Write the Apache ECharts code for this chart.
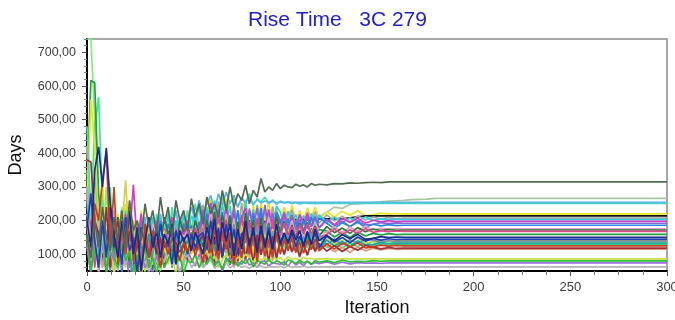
<!DOCTYPE html>
<html>
<head>
<meta charset="utf-8">
<script src="https://cdn.jsdelivr.net/npm/echarts@6/dist/echarts.min.js"></script>
<style>
html,body{margin:0;padding:0;background:#fff;}
#chart{width:675px;height:320px;}
</style>
</head>
<body>
<div id="chart"></div>
<script>
// ---------- data ----------
const iterations = [0,2,4,6,8,10,12,14,16,18,20,22,24,26,28,30,32,34,36,38,40,42,44,46,48,50,52,54,56,58,60,62,64,66,68,70,72,74,76,78,80,82,84,86,88,90,92,94,96,98,100,102,104,106,108,110,112,114,116,118,120,124,128,132,136,140,144,148,152,156,160,164,168,172,176,180,184,188,192,196,200];
const lastIteration = 300;
const xTickLabels = [0,50,100,150,200,250,300];
const yTickValues = [100,200,300,400,500,600,700];

const sLime = [740,740,500,200,90,300,60,180,100,240, 80,150,40,200,90,130,70,160,110,50, 120,80,140,100,150,60,120,145,125,160, 105,170,95,160,115,175,90,165,100,180,95,150,85,170,105,185,80,155,90,175, 117,147,120,157,127,155,110,150,115,160,125, 145,127,141,125,142,130, 138,133,137,134, 135];
const sSpring = [350,200,480,567,250,120,300,80,190,100, 160,60,140,90,180,40,130,110,150,90, 120,140,70,135,120,150,100,132,125,140, 148,98,163,108,158,88,153,93,168,138,83,158,103,173,78,163,113,183,98,148, 142,120,146,108,140,103,143,118,153,110,150, 119,135,118,133,122,136, 125,130,127,129, 128];
const sGreen = [300,617,609,280,150,80,200,120,60,180, 100,150,70,170,40,140,110,160,90,150, 120,165,60,155,140,170,100,165,145,175, 179,129,214,144,194,109,204,134,189,114,169,199,124,184,119,189,139,194,129,179, 181,141,184,149,174,134,171,139,177,151,173, 169,151,165,149,166,154, 162,157,161,158, 159];
const sSage = [420,160,90,200,60,150,110,40,170,90, 140,70,120,160,90,150,60,140,100,170, 80,130,150,100,160,90,140,120,110,150, 120,160,100,140,130,150,110,145,125,160, 130,150,140,155,135,160,145,150,140,165, 150,160,155,175,170,185,195,190,205,215, 210,225,240,236,248, 250,252,254,256,258, 259,260,262,263,264,266];
const sLightCoral = [420,150,80,200,60,140,100,170,70,120, 90,150,40,130,100,120,60,125,110,140, 80,120,112,130,95,118,114,122,108,116, 65,145,95,170,75,160,105,155,60,140,80,165,90,145,70,150,85,135,80,155, 137,97,140,105,130,90,127,95,133,107,129, 125,107,121,105,122,110, 118,113,117,114, 115];
const sYellow = [250,560,420,180,320,120,260,90,220,150, 250,110,200,60,230,120,180,70,210,130, 190,100,220,150,200,110,230,180,210,130, 240,190,275,205,255,170,265,195,250,175,230,260,185,245,180,250,200,255,190,240, 195,240,205,245,200,230,198,238,208,240,205, 226,210,228,216,229,214, 217,222,219,221, 220];
const sAqua = [480,220,330,160,260,110,220,80,190,140, 230,100,180,60,210,130,170,90,220,150, 190,110,240,160,200,130,230,170,250,180, 210,240,190,260,220,270,230,255,265,240, 270,250,280,245,265,255,270,250,262,248, 258,252,256,250,254,249,253,251,252,250, 251,252,251];
const sLightBlue = [300,140,250,80,180,60,160,110,70,200, 120,170,90,150,130,210,100,180,150,220, 140,190,170,230,160,210,190,240,200,260, 220,250,275,230,280,245,285,250,275,240, 265,255,270,250,262,252,258,254,257,253, 255,254,254];
const sBlack = [100,60,140,80,170,40,120,90,160,70, 130,100,150,60,140,110,160,90,150,120, 170,110,160,80,175,140,120,150,180,130, 175,150,185,140,190,160,180,155,195,170, 185,165,200,175,195,180,198,185,202,190, 200,195,204,198,203,200,205,202,206,204, 205,205,206,205,208,211,214];
const sGray = [200,90,300,60,240,100,180,40,210,120, 160,80,190,50,170,130,200,90,180,140, 100,190,150,200,120,195,170,140,205,180, 247,162,227,152,257,177,242,157,222,167,252,172,237,162,247,187,232,167,242,177, 182,227,192,232,187,217,185,225,195,227,192, 217,199,213,197,214,202, 210,205,209,206, 207];
const sCyan = [220,100,160,60,190,120,230,80,150,110, 200,60,170,130,100,180,140,210,90,190, 150,220,110,200,170,230,140,215,190,240, 153,233,183,258,163,248,193,243,148,228,168,253,178,233,158,238,173,223,168,243, 225,185,228,193,218,178,215,183,221,195,217, 194,210,193,208,197,211, 200,205,202,204, 203];
const sMagenta = [180,90,250,120,200,80,240,130,190,100, 220,150,306,120,220,90,180,50,200,110, 170,150,210,80,180,160,200,110,190,170, 218,168,253,183,233,148,243,173,228,153,208,238,163,223,158,228,178,233,168,218, 188,223,178,213,173,218,190,220,183,210,180, 204,188,206,194,207,192, 201,196,200,197, 198];
const sPurple = [150,70,200,100,170,40,190,90,150,120, 180,60,160,110,190,80,170,130,185,70, 175,140,190,100,185,160,195,130,190,175, 232,157,212,162,227,147,222,167,242,157,217,137,232,182,237,152,247,172,222,142, 167,212,177,217,172,202,170,210,180,212,177, 202,184,198,182,199,187, 189,194,191,193, 192];
const sBlue = [250,100,180,60,220,90,170,120,200,40, 160,110,190,130,70,170,100,180,140,200, 120,190,150,175,90,190,165,185,140,195, 156,221,146,211,166,226,141,216,151,231,146,201,136,221,156,236,131,206,141,226, 200,178,204,166,198,161,201,176,211,168,208, 192,176,194,182,195,180, 189,184,188,185, 186];
const sLightPink = [150,60,120,200,90,170,110,230,80,160, 120,190,50,170,140,180,100,190,160,130, 175,145,190,160,180,150,178,170,185,160, 195,145,230,160,210,125,220,150,205,130,185,215,140,200,135,205,155,210,145,195, 150,195,160,200,155,185,153,193,163,195,160, 166,182,165,180,169,183, 172,177,174,176, 175];
const sDarkGreen = [260,140,200,90,180,60,150,110,210,130, 170,80,190,120,160,140,200,50,180,130, 210,160,190,100,205,165,185,140,200,160, 122,202,152,227,132,217,162,212,117,197,137,222,147,202,127,207,142,192,137,212, 162,197,152,187,147,192,164,194,157,184,154, 182,164,178,162,179,167, 175,170,174,171, 172];
const sPink = [120,200,60,170,100,150,70,190,110,160, 80,180,120,40,150,100,170,130,160,90, 175,140,165,110,170,160,180,130,175,150, 208,123,188,113,218,138,203,118,183,128,213,133,198,123,208,148,193,128,203,138, 158,193,148,183,143,188,160,190,153,180,150, 159,175,158,173,162,176, 165,170,167,169, 168];
const sOlive = [200,150,300,100,220,80,180,120,200,170, 320,120,200,90,170,50,190,110,160,140, 170,70,150,145,120,150,138,100,145,140, 180,95,160,85,190,110,175,90,155,100,185,105,170,95,180,120,165,100,175,110, 125,160,128,158,118,150,120,165,125,160,115, 146,130,148,136,149,134, 137,142,139,141, 140];
const sSteel = [130,60,100,170,80,150,50,120,90,140, 70,160,100,40,130,80,150,110,60,140, 120,150,90,145,130,100,142,138,120,140, 178,103,158,108,173,93,168,113,188,103,163,83,178,128,183,98,193,118,168,88, 152,130,156,118,150,113,153,128,163,120,160, 129,145,128,143,132,146, 141,136,140,137, 138];
const sTeal = [140,60,180,100,150,70,200,120,90,170, 110,140,40,150,120,100,160,70,130,140, 90,145,115,160,125,100,138,128,150,115, 152,102,167,112,162,92,157,97,172,142,87,162,107,177,82,167,117,187,102,152, 122,157,112,147,107,152,124,154,117,144,114, 142,124,138,122,139,127, 129,134,131,133, 132];
const sMaroon = [380,374,200,160,90,240,60,150,200,80, 130,170,70,140,40,160,90,130,100,150, 60,125,105,135,100,130,80,125,112,140, 158,73,138,63,168,88,153,68,133,78,163,83,148,73,158,98,143,78,153,88, 140,100,143,108,133,93,130,98,136,110,132, 109,125,108,123,112,126, 121,116,120,117, 118];
const sYellowGreen = [200,80,150,50,120,70,140,40,110,90, 60,130,80,100,30,110,90,70,140,80, 120,75,95,40,105,80,130,75,100,60, 92,110,78,95,60,84,100,86,70,92, 84,100,88,76,95,82,90,78,94,84, 90,80,92,85,88,82,90,86,88,85, 87,86,85,86,86];
const sLavender = [120,40,160,70,130,50,110,80,140,60, 100,30,90,70,110,60,85,40,95,65, 80,120,70,85,40,80,110,85,65,100, 60,75,95,68,82,50,78,90,66,76, 70,85,68,74,60,77,80,65,75,72, 70,78,64,80,68,76,66,79,70,75, 72,77,70,76,71,75,73,74,73,74];
const sLightGray = [300,80,200,40,160,60,130,90,50,110, 70,140,30,100,80,120,40,90,60,100, 75,120,65,90,50,80,100,60,75,90, 60,72,85,58,68,62,75,60,66,70, 61,64,58,66,62,65,60,63,62,62, 64,60,65,61,63,62,64,61,62,62];
const sMedGreen = [160,50,120,70,200,40,150,90,60,130, 80,110,30,100,70,120,60,90,40,100, 60,85,110,70,95,45,80,75,100,60, 85,70,95,65,80,55,90,70,85,65, 80,72,88,62,82,75,70,85,72,80, 76,68,83,78,72,82,74,79,70,81, 76,80,75,82,77,79,78,81,79,80];
const sRoyal = [180,280,140,60,200,90,240,120,160,70, 210,110,150,40,180,130,90,160,100,190, 120,140,70,170,130,150,100,160,120,155, 164,114,199,129,179,94,189,119,174,99,154,184,109,169,104,174,124,179,114,164, 129,164,132,162,122,154,124,169,129,164,119, 154,136,150,134,151,139, 147,142,146,143, 144];
const sRedOrange = [150,90,250,200,320,404,120,300,70,180, 100,220,80,160,40,190,90,170,130,60, 140,100,150,120,80,135,110,140,95,132, 75,155,105,180,85,170,115,165,70,150,90,175,100,155,80,160,95,145,90,165, 100,145,110,150,105,135,103,143,113,145,110, 131,115,133,121,134,119, 122,127,124,126, 125];
const sNavy = [200,120,350,419,300,416,250,160,90,200, 130,230,100,180,50,140,210,120,170,90, 160,130,190,70,170,140,160,110,165,135, 100,180,130,205,110,195,140,190,95,175,115,200,125,180,105,185,120,170,115,190, 132,162,135,172,142,170,125,165,130,175,140, 156,140,158,146,159,144, 147,152,149,151, 150];
const sDarkSlate = [160,90,200,120,240,150,110,210,140,230, 120,260,170,200,140,250,180,230,160,270, 190,240,150,260,200,230,170,265,210,250, 190,270,220,250,210,290,230,300,240,280, 260,305,250,290,270,325,285,300,290,310, 295,305,300,298,308,302,306,300,310,305, 308,306,310,309,312,311,313,314,313,315, 315];

// ---------- styles ----------
const lines = [
  [sLime,'#7cf07c'],[sSpring,'#3ee48c'],[sGreen,'#22a040'],[sSage,'#a9c6a4'],
  [sLightCoral,'#e09878'],[sYellow,'#e6e61c'],[sAqua,'#3ee0b8'],[sLightBlue,'#5ab4e6'],
  [sBlack,'#111111'],[sGray,'#a4a4a4'],[sCyan,'#30d0e0'],[sMagenta,'#d23cc8'],
  [sPurple,'#8a64d8'],[sBlue,'#2a84e0'],[sLightPink,'#e4a0c0'],[sDarkGreen,'#2d7a3a'],
  [sPink,'#e2478e'],[sOlive,'#d2d240'],[sSteel,'#7890b0'],[sTeal,'#1fa3a3'],
  [sMaroon,'#a02c3c'],[sYellowGreen,'#c6e046'],[sLavender,'#9c6ee0'],[sLightGray,'#b4b4b4'],
  [sMedGreen,'#2ec02e'],[sRoyal,'#2040b8'],[sRedOrange,'#c8401a'],[sNavy,'#1b2c8c'],
  [sDarkSlate,'#536b53']
];

function toPairs(vals){
  const d = vals.map((v,i)=>[iterations[i], v]);
  d.push([lastIteration, vals[vals.length-1]]);
  return d;
}

const minorY = [];
for (let v = 60; v <= 740; v += 20) if (v % 100 !== 0) minorY.push(v);

const FONT = 'Liberation Sans, Arial, sans-serif';
const chart = echarts.init(document.getElementById('chart'), null, {renderer:'canvas'});
chart.setOption({
  animation: false,
  backgroundColor: '#ffffff',
  title: {
    text: 'Rise Time   3C 279',
    left: 'center',
    top: 5,
    textStyle: {color:'#2222cc', fontSize:21, fontWeight:'normal', fontFamily:FONT}
  },
  grid: {left:87, right:8, top:39, bottom:49, containLabel:false, outerBoundsMode:'none',
         show:true, borderColor:'#8a8a8a', borderWidth:1.5, backgroundColor:'#fff'},
  xAxis: {
    type:'value', min:0, max:300, interval:50,
    name:'Iteration', nameLocation:'middle', nameGap:25,
    nameTextStyle:{color:'#111', fontSize:18, fontFamily:FONT},
    axisLine:{show:true, lineStyle:{color:'#000', width:2}},
    axisTick:{show:true, length:5, lineStyle:{color:'#555'}},
    minorTick:{show:true, splitNumber:4, length:4, lineStyle:{color:'#777'}},
    splitLine:{show:false},
    axisLabel:{color:'#404040', fontSize:13, fontFamily:FONT, margin:10,
      customValues: xTickLabels}
  },
  yAxis: [{
    type:'value', min:50, max:740,
    name:'Days', nameLocation:'middle', nameGap:62, nameRotate:90,
    nameTextStyle:{color:'#111', fontSize:18, fontFamily:FONT},
    axisLine:{show:true, lineStyle:{color:'#000', width:2}},
    axisTick:{show:true, length:5, lineStyle:{color:'#555'}, customValues:yTickValues},
    splitLine:{show:false},
    axisLabel:{color:'#404040', fontSize:12.5, fontFamily:FONT, margin:11,
      customValues:yTickValues,
      formatter: v => v.toFixed(2).replace('.', ',')}
  },{
    type:'value', min:50, max:740, position:'left',
    axisLine:{show:false},
    axisTick:{show:true, length:3, lineStyle:{color:'#888'}, customValues:minorY},
    axisLabel:{show:false},
    splitLine:{show:false}
  }],
  series: lines.map(([vals,color],i)=>({
    type:'line', name:'s'+i, data:toPairs(vals), showSymbol:false, symbol:'none',
    clip:true, lineStyle:{color:color, width:1.7}, itemStyle:{color:color},
    emphasis:{disabled:true}, silent:true
  }))
});
</script>
</body>
</html>
